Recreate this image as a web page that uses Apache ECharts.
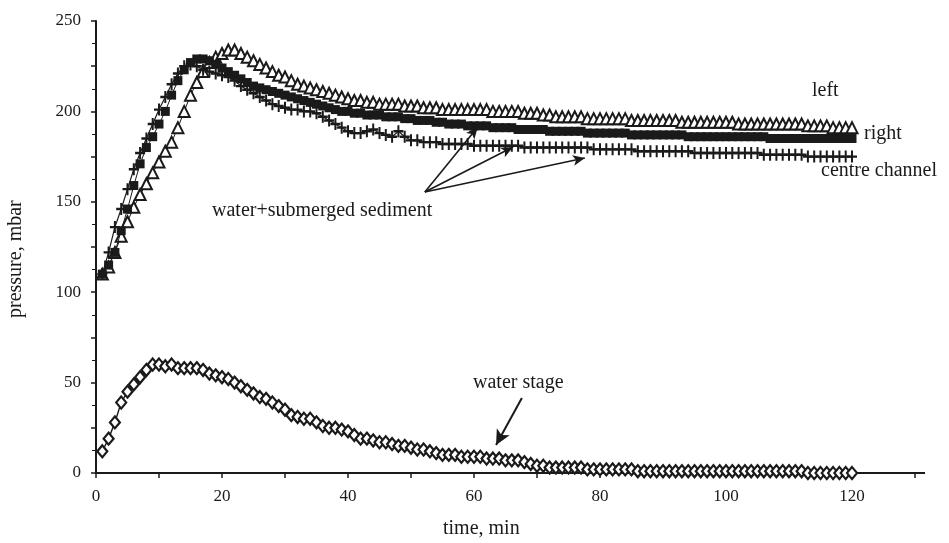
<!DOCTYPE html>
<html>
<head>
<meta charset="utf-8">
<script src="https://cdn.jsdelivr.net/npm/echarts@6/dist/echarts.min.js"></script>
<style>
  html, body { margin: 0; padding: 0; background: #fff; }
  #chart { width: 949px; height: 543px; }
</style>
</head>
<body>
<div id="chart"></div>
<script>
// pressure readings, one per minute from t = 1 to t = 120
const leftVals = [
  110, 114, 122, 131, 139, 147, 154, 160, 166, 172,
  178, 183, 191, 200, 209, 216, 222, 227, 230, 232,
  234, 234, 232, 230, 228, 226, 224, 222, 220, 219,
  217, 215, 214, 213, 212, 211, 210, 209, 208, 207,
  206, 206, 205, 205, 204, 204, 204, 204, 203, 203,
  203, 202, 202, 202, 201, 201, 201, 201, 201, 201,
  201, 201, 200, 200, 200, 200, 200, 199, 199, 199,
  198, 198, 197, 197, 197, 197, 197, 196, 196, 196,
  196, 196, 196, 196, 195, 195, 195, 195, 195, 195,
  195, 195, 194, 194, 194, 194, 194, 194, 194, 194,
  194, 193, 193, 193, 193, 193, 193, 193, 193, 193,
  193, 193, 192, 192, 192, 192, 191, 191, 191, 191
];

const rightVals = [
  110, 115, 122, 134, 146, 159, 171, 180, 186, 193,
  200, 209, 217, 223, 227, 229, 229, 228, 226, 224,
  222, 220, 218, 216, 214, 213, 212, 211, 210, 209,
  208, 207, 206, 205, 204, 203, 202, 201, 200, 200,
  199, 199, 198, 198, 198, 197, 197, 197, 196, 196,
  195, 195, 195, 194, 194, 193, 193, 193, 192, 192,
  192, 192, 191, 191, 191, 191, 190, 190, 190, 190,
  190, 189, 189, 189, 189, 189, 189, 188, 188, 188,
  188, 188, 188, 188, 187, 187, 187, 187, 187, 187,
  187, 187, 187, 186, 186, 186, 186, 186, 186, 186,
  186, 186, 186, 186, 186, 186, 185, 185, 185, 185,
  185, 185, 185, 185, 185, 185, 185, 185, 185, 185
];

const centreVals = [
  110, 122, 136, 146, 157, 168, 177, 185, 193, 201,
  208, 215, 221, 225, 226, 225, 223, 222, 221, 220,
  219, 217, 214, 212, 210, 208, 206, 204, 203, 202,
  201, 201, 200, 200, 199, 197, 195, 193, 191, 189,
  188, 188, 189, 190, 188, 187, 186, 189, 186, 184,
  184, 183, 183, 183, 182, 182, 182, 182, 182, 181,
  181, 181, 181, 181, 181, 181, 181, 180, 180, 180,
  180, 180, 180, 180, 180, 180, 180, 180, 179, 179,
  179, 179, 179, 179, 179, 178, 178, 178, 178, 178,
  178, 178, 178, 178, 177, 177, 177, 177, 177, 177,
  177, 177, 177, 177, 177, 176, 176, 176, 176, 176,
  176, 176, 175, 175, 175, 175, 175, 175, 175, 175
];

const waterVals = [
  12, 19, 28, 39, 45, 49, 53, 57, 60, 60,
  59, 60, 58, 58, 58, 58, 57, 55, 54, 53,
  52, 50, 48, 46, 44, 42, 41, 39, 37, 35,
  32, 31, 30, 30, 28, 26, 25, 25, 24, 23,
  21, 19, 19, 18, 17, 17, 16, 15, 15, 14,
  13, 13, 12, 11, 10, 10, 10, 9, 9, 9,
  9, 8, 8, 8, 7, 7, 7, 6, 5, 4,
  4, 3, 3, 3, 3, 3, 3, 2, 2, 2,
  2, 2, 2, 2, 2, 1, 1, 1, 1, 1,
  1, 1, 1, 1, 1, 1, 1, 1, 1, 1,
  1, 1, 1, 1, 1, 1, 1, 1, 1, 1,
  1, 1, 0, 0, 0, 0, 0, 0, 0, 0
];

const minutes = leftVals.map((v, i) => i + 1);

// arrows: [from, to] in data units
const sedimentArrows = [
  [[52.2, 155.4], [60.6, 191.4]],
  [[52.2, 155.4], [66.2, 180.3]],
  [[52.2, 155.4], [77.6, 174.2]]
];
const stageArrow = [[67.6, 41.5], [63.5, 15.5]];

const FONT = '"Liberation Serif", "DejaVu Serif", serif';
const INK = "#1a1a1a";

function pairs(vals) {
  return vals.map((v, i) => [minutes[i], v]);
}

const plusPath = "path://M4,0H6V4H10V6H6V10H4V6H0V4H4Z";

var chart = echarts.init(document.getElementById("chart"));

var option = {
  animation: false,
  backgroundColor: "#fff",
  grid: {
    left: 96,
    top: 21,
    right: 34,
    bottom: 70,
  },
  xAxis: {
    type: "value",
    min: 0,
    max: 130,
    interval: 10,
    splitLine: { show: false },
    axisLine: { lineStyle: { color: INK, width: 2 } },
    axisTick: { length: 5, lineStyle: { color: INK, width: 1.5 } },
    axisLabel: {
      color: INK,
      fontFamily: FONT,
      fontSize: 17,
      margin: 15,
      formatter: (v) => (v % 20 === 0 && v <= 120 ? String(v) : ""),
    },
  },
  yAxis: {
    type: "value",
    min: 0,
    max: 250,
    interval: 25,
    splitLine: { show: false },
    axisLine: { lineStyle: { color: INK, width: 2 } },
    axisTick: { length: 5, lineStyle: { color: INK, width: 1.5 } },
    minorTick: { show: true, splitNumber: 2, length: 4, lineStyle: { color: INK, width: 1 } },
    axisLabel: {
      color: INK,
      fontFamily: FONT,
      fontSize: 17,
      margin: 15,
      formatter: (v) => (v % 50 === 0 ? String(v) : ""),
    },
  },
  series: [
    {
      name: "left",
      type: "line",
      data: pairs(leftVals),
      symbol: "triangle",
      symbolSize: [11, 11],
      showAllSymbol: true,
      lineStyle: { color: INK, width: 1 },
      itemStyle: { color: "#fff", borderColor: INK, borderWidth: 2 },
      z: 3,
    },
    {
      name: "right",
      type: "line",
      data: pairs(rightVals),
      symbol: "rect",
      symbolSize: [9, 9],
      showAllSymbol: true,
      lineStyle: { color: INK, width: 1 },
      itemStyle: { color: INK, borderColor: INK, borderWidth: 0 },
      z: 4,
    },
    {
      name: "centre channel",
      type: "line",
      data: pairs(centreVals),
      symbol: plusPath,
      symbolSize: [10, 12],
      showAllSymbol: true,
      lineStyle: { color: INK, width: 1.2 },
      itemStyle: { color: INK, borderWidth: 0 },
      z: 5,
      markLine: {
        silent: true,
        symbol: ["none", "arrow"],
        symbolSize: [8, 12],
        lineStyle: { color: INK, width: 1.6, type: "solid" },
        label: { show: false },
        data: sedimentArrows.map((a) => [{ coord: a[0] }, { coord: a[1] }]),
      },
    },
    {
      name: "water stage",
      type: "line",
      data: pairs(waterVals),
      symbol: "diamond",
      symbolSize: [10, 12],
      showAllSymbol: true,
      lineStyle: { color: INK, width: 1.4 },
      itemStyle: { color: "#fff", borderColor: INK, borderWidth: 2.2 },
      z: 3,
      markLine: {
        silent: true,
        symbol: ["none", "arrow"],
        symbolSize: [11, 15],
        lineStyle: { color: INK, width: 2, type: "solid" },
        label: { show: false },
        data: [[{ coord: stageArrow[0] }, { coord: stageArrow[1] }]],
      },
    },
  ],
  graphic: [
    // axis line runs a little past the last tick
    { type: "line", shape: { x1: 914, y1: 473, x2: 925, y2: 473 }, style: { stroke: INK, lineWidth: 2 } },
    { type: "text", left: 812, top: 81, style: { text: "left", font: "20px " + FONT, fill: INK } },
    { type: "text", left: 864, top: 124, style: { text: "right", font: "20px " + FONT, fill: INK } },
    { type: "text", left: 821, top: 161, style: { text: "centre channel", font: "20px " + FONT, fill: INK } },
    { type: "text", left: 212, top: 201, style: { text: "water+submerged sediment", font: "20px " + FONT, fill: INK } },
    { type: "text", left: 473, top: 373, style: { text: "water stage", font: "20px " + FONT, fill: INK } },
    { type: "text", left: 443, top: 519, style: { text: "time, min", font: "20px " + FONT, fill: INK } },
    {
      type: "text",
      x: 6,
      y: 318,
      rotation: Math.PI / 2,
      style: { text: "pressure, mbar", font: "20px " + FONT, fill: INK },
    },
  ],
};

chart.setOption(option);
</script>
</body>
</html>
